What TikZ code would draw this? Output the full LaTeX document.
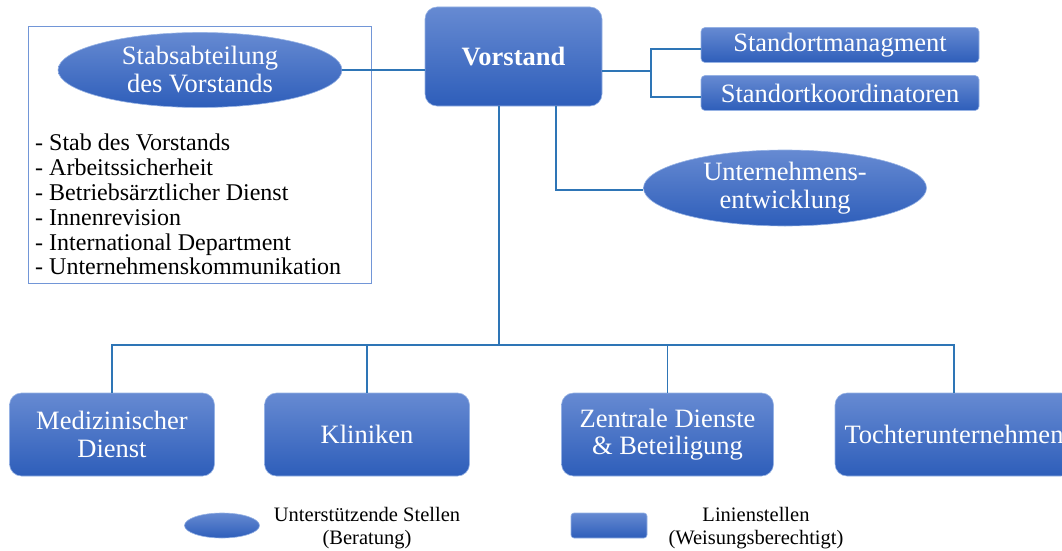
\documentclass[tikz,border=0pt]{standalone}
\usepackage{fontspec}
\setmainfont{Liberation Serif}
\usetikzlibrary{shapes.geometric}
\definecolor{shadetop}{RGB}{102,138,210}
\definecolor{shadebot}{RGB}{46,94,186}
\definecolor{rim}{RGB}{150,178,228}
\definecolor{linkblue}{RGB}{46,117,182}
\definecolor{framblue}{RGB}{114,150,215}

\begin{document}
\begin{tikzpicture}[x=1pt,y=-1pt,
  linie/.style={draw=rim,line width=0.6pt,top color=shadetop,bottom color=shadebot,
    rounded corners=12pt,text=white,align=center,inner sep=0pt,
    font=\fontsize{26.5}{27.5}\selectfont},
  stelle/.style={ellipse,draw=rim,line width=0.6pt,top color=shadetop,bottom color=shadebot,
    text=white,align=center,inner sep=0pt,font=\fontsize{26.5}{28}\selectfont},
  verb/.style={draw=linkblue,line width=1.1pt},
  legtext/.style={align=center,font=\fontsize{20.5}{23}\selectfont}]
\useasboundingbox (0,0) rectangle (1062,551);
% Stabsabteilung
\draw[framblue,line width=1pt] (28,27) rectangle (371,283);
\node[stelle,minimum width=284pt,minimum height=75pt] (stab) at (200,70) {Stabsabteilung\\des Vorstands};
\node[anchor=north west,align=left,inner sep=0pt,font=\fontsize{24}{24.8}\selectfont] (liste) at (35,134)
  {- Stab des Vorstands\\- Arbeitssicherheit\\- Betriebsärztlicher Dienst\\- Innenrevision\\- International Department\\- Unternehmenskommunikation};
% Vorstand
\node[linie,minimum width=177pt,minimum height=99pt,font=\fontsize{26.5}{27.5}\selectfont\bfseries] (vorstand) at (513.5,56.5) {Vorstand};
\node[linie,rounded corners=4pt,minimum width=278pt,minimum height=35pt] (sm) at (840,45) {Standortmanagment};
\node[linie,rounded corners=4pt,minimum width=278pt,minimum height=35pt] (sk) at (840,93) {Standortkoordinatoren};
\node[stelle,minimum width=283pt,minimum height=76pt] (ue) at (785,188) {Unternehmens-\\entwicklung};
% Linienstellen unten
\node[linie,minimum width=205pt,minimum height=83pt] (med) at (112,434.5) {Medizinischer\\Dienst};
\node[linie,minimum width=205pt,minimum height=83pt] (kli) at (367,434.5) {Kliniken};
\node[linie,minimum width=212pt,minimum height=83pt] (zen) at (667.5,434.5) {Zentrale Dienste\\\& Beteiligung};
\node[linie,minimum width=238pt,minimum height=83pt] (toch) at (954,434.5) {Tochterunternehmen};
% Verbindungen
\coordinate (br) at (651,71);
\coordinate (bus) at (499,345);
\coordinate (uex) at (556,0);
\draw[verb] (stab.east) -- (stab.east -| vorstand.west);
\draw[verb] (vorstand.east |- br) -- (br);
\draw[verb] ([yshift=-4pt]sm.west) -| (br) |- ([yshift=-4pt]sk.west);
\draw[verb] (vorstand.south -| bus) -- (bus);
\draw[verb] (vorstand.south -| uex) |- ([yshift=-2pt]ue.west);
\draw[verb] (med.north) -- (med.north |- bus) -- (toch.north |- bus) -- (toch.north);
\draw[verb] (kli.north) -- (kli.north |- bus);
\draw[verb] (zen.north) -- (zen.north |- bus);
% Legende
\node[stelle,minimum width=75pt,minimum height=25pt] (legell) at (222,525.5) {};
\node[legtext] (legelltext) at (367,528.5) {Unterstützende Stellen\\(Beratung)};
\node[linie,rounded corners=3pt,minimum width=76pt,minimum height=25pt] (legbox) at (609,525.5) {};
\node[legtext] (legboxtext) at (756,528.5) {Linienstellen\\(Weisungsberechtigt)};
\end{tikzpicture}
\end{document}
